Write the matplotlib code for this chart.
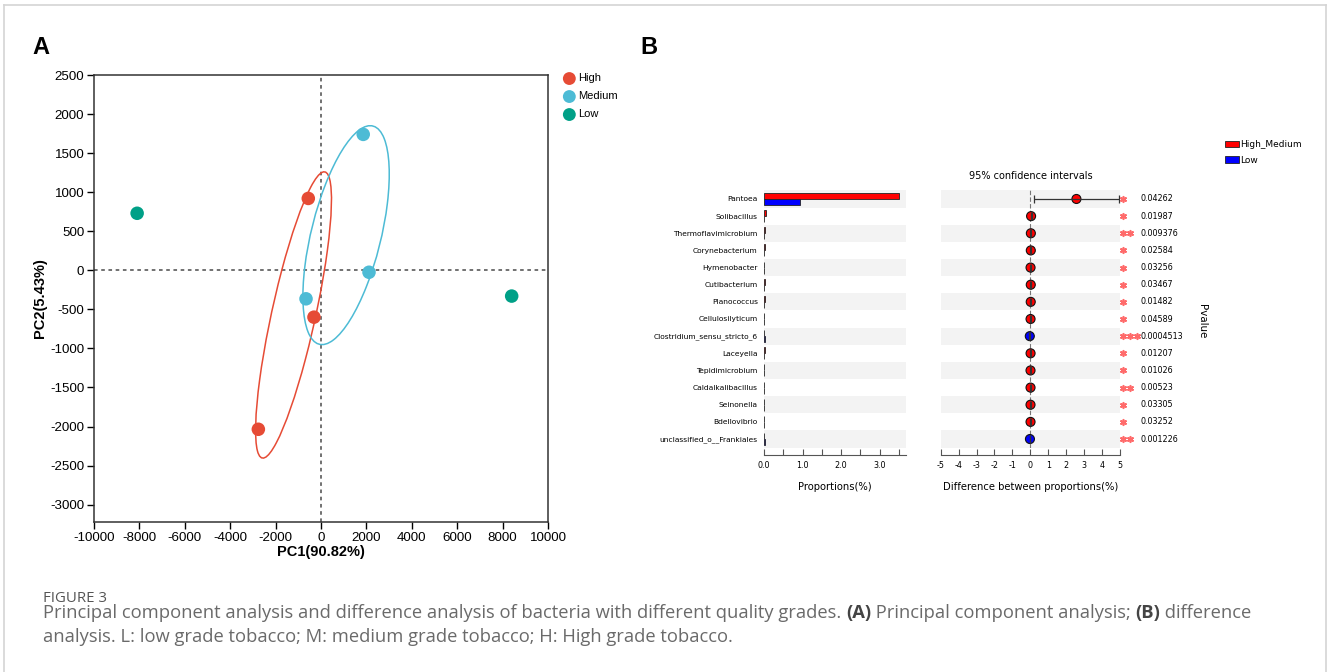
import numpy as np
import matplotlib
matplotlib.use('Agg')
import matplotlib.pyplot as plt
from matplotlib.patches import Ellipse, Patch
from matplotlib.lines import Line2D
import matplotlib.transforms as transforms

# ---------------- Panel A data (PCA) ----------------
groups = ['High', 'Medium', 'Low']
group_colors = ['#E64B35', '#4DBBD5', '#00A087']
pc1_high = [-560, -310, -2760]
pc2_high = [920, -600, -2035]
pc1_medium = [1860, 2115, -660]
pc2_medium = [1740, -25, -365]
pc1_low = [-8100, 8400]
pc2_low = [730, -330]
pc1_label = 'PC1(90.82%)'
pc2_label = 'PC2(5.43%)'

# ---------------- Panel B data (difference analysis) ----------------
genera = ['Pantoea', 'Solibacillus', 'Thermoflavimicrobium', 'Corynebacterium',
          'Hymenobacter', 'Cutibacterium', 'Planococcus', 'Cellulosilyticum',
          'Clostridium_sensu_stricto_6', 'Laceyella', 'Tepidimicrobium',
          'Caldalkalibacillus', 'Seinonella', 'Bdellovibrio',
          'unclassified_o__Frankiales']
prop_high_medium = [3.50, 0.045, 0.030, 0.028, 0.012, 0.025, 0.024, 0.012,
                    0.004, 0.013, 0.010, 0.011, 0.010, 0.011, 0.002]
prop_low = [0.93, 0.004, 0.002, 0.003, 0.001, 0.002, 0.003, 0.001,
            0.035, 0.001, 0.001, 0.001, 0.001, 0.001, 0.025]
diff_ci_low = [0.18, 0.01, 0.008, 0.006, 0.003, 0.005, 0.006, 0.003,
               -0.05, 0.004, 0.002, 0.003, 0.002, 0.003, -0.035]
diff_ci_high = [4.96, 0.07, 0.048, 0.044, 0.019, 0.04, 0.036, 0.019,
                -0.012, 0.02, 0.016, 0.017, 0.016, 0.017, -0.011]
p_values = ['0.04262', '0.01987', '0.009376', '0.02584', '0.03256', '0.03467',
            '0.01482', '0.04589', '0.0004513', '0.01207', '0.01026', '0.00523',
            '0.03305', '0.03252', '0.001226']
legend_b = ['High_Medium', 'Low']
bar_colors = ['#ff0000', '#0000ff']

caption_title = 'FIGURE 3'
caption_parts_1 = [('Principal component analysis and difference analysis of bacteria with different quality grades. ', 'normal'),
                   ('(A)', 'bold'), (' Principal component analysis; ', 'normal'),
                   ('(B)', 'bold'), (' difference', 'normal')]
caption_line_2 = 'analysis. L: low grade tobacco; M: medium grade tobacco; H: High grade tobacco.'

plt.rcParams['font.family'] = ['Liberation Sans', 'DejaVu Sans']
plt.rcParams['axes.unicode_minus'] = False

W, H = 1328, 672
fig = plt.figure(figsize=(W / 100, H / 100), dpi=100)


def fx(px):
    return px / W


def fy(py):
    return 1 - py / H


# figure border
for xs, ys in [((4, 4), (5, 672)), ((4, 1326), (5, 5)), ((1326, 1326), (5, 672))]:
    fig.add_artist(Line2D([fx(xs[0]), fx(xs[1])], [fy(ys[0]), fy(ys[1])],
                          color='#d4d4d4', lw=1.2, transform=fig.transFigure))

# ================= Panel A =================
axA = fig.add_axes([fx(94), fy(522), fx(548) - fx(94), fy(75) - fy(522)])
axA.set_xlim(-10000, 10000)
axA.set_ylim(-3222, 2500)
axA.axvline(0, color='#666666', ls=(0, (2, 2)), lw=1.3, zorder=1)
axA.axhline(0, color='#666666', ls=(0, (2, 2)), lw=1.3, zorder=1)


def conf_ellipse(ax, x, y, n_std, color):
    x = np.asarray(x, float)
    y = np.asarray(y, float)
    cov = np.cov(x, y)
    r = cov[0, 1] / np.sqrt(cov[0, 0] * cov[1, 1])
    ell = Ellipse((0, 0), width=2 * np.sqrt(1 + r), height=2 * np.sqrt(1 - r),
                  facecolor='none', edgecolor=color, lw=1.1, zorder=2)
    t = (transforms.Affine2D().rotate_deg(45)
         .scale(np.sqrt(cov[0, 0]) * n_std, np.sqrt(cov[1, 1]) * n_std)
         .translate(x.mean(), y.mean()))
    ell.set_transform(t + ax.transData)
    ax.add_patch(ell)


conf_ellipse(axA, pc1_high, pc2_high, 1.24, group_colors[0])
conf_ellipse(axA, pc1_medium, pc2_medium, 1.24, group_colors[1])

handles = []
for xs, ys, c, g in [(pc1_high, pc2_high, group_colors[0], groups[0]),
                     (pc1_medium, pc2_medium, group_colors[1], groups[1]),
                     (pc1_low, pc2_low, group_colors[2], groups[2])]:
    h = axA.scatter(xs, ys, s=95, color=c, edgecolors='none', zorder=3, label=g)
    handles.append(h)

axA.set_xticks(np.arange(-10000, 10001, 2000))
axA.set_yticks(np.arange(-3000, 2501, 500))
axA.tick_params(direction='out', length=5, width=1, labelsize=9.6, pad=2)
for sp in axA.spines.values():
    sp.set_linewidth(1.1)
    sp.set_color('#333333')
axA.set_xlabel(pc1_label, fontsize=10.5, fontweight='bold', labelpad=1)
axA.set_ylabel(pc2_label, fontsize=10.5, fontweight='bold', labelpad=2)
fig.legend(handles=handles, loc='upper left', bbox_to_anchor=(fx(556), fy(69)),
           frameon=False, fontsize=8.0, handletextpad=0.0, labelspacing=0.72,
           borderaxespad=0, handlelength=1.6, markerscale=0.95)

fig.text(fx(32), fy(48), 'A', fontsize=17, fontweight='bold', va='center', ha='left')
fig.text(fx(640), fy(48), 'B', fontsize=17, fontweight='bold', va='center', ha='left')

# ================= Panel B =================
n = len(genera)
ypos = np.arange(n)
row_top, row_bot = 190.4, 447.6

axL = fig.add_axes([fx(764), fy(row_bot), fx(906) - fx(764), fy(row_top) - fy(row_bot)])
axR = fig.add_axes([fx(940.7), fy(row_bot), fx(1120) - fx(940.7), fy(row_top) - fy(row_bot)])

for ax in (axL, axR):
    ax.set_ylim(n - 0.5, -0.5)
    for i in ypos:
        if i % 2 == 0:
            ax.axhspan(i - 0.5, i + 0.5, color='#f3f3f3', lw=0, zorder=0)
    for s in ('top', 'right', 'left'):
        ax.spines[s].set_visible(False)
    ax.spines['bottom'].set_position(('outward', 5))
    ax.spines['bottom'].set_color('#555555')
    ax.spines['bottom'].set_linewidth(0.8)
    ax.tick_params(axis='x', which='both', direction='in', length=4, width=0.8,
                   color='#555555', labelsize=5.8, pad=5)

# Proportion bars
bh = 0.35
axL.barh(ypos - bh / 2, prop_high_medium, height=bh, color=bar_colors[0],
         edgecolor='#222222', lw=0.6, zorder=2)
axL.barh(ypos + bh / 2, prop_low, height=bh, color=bar_colors[1],
         edgecolor='#222222', lw=0.6, zorder=2)
axL.set_xlim(0, 3.68)
axL.set_xticks([0, 1, 2, 3])
axL.set_xticklabels(['0.0', '1.0', '2.0', '3.0'])
axL.set_xticks([0.5, 1.5, 2.5, 3.5], minor=True)
axL.set_yticks(ypos)
axL.set_yticklabels(genera, fontsize=5.4, family='DejaVu Sans')
axL.tick_params(axis='y', length=0, pad=4.5)
for lab in axL.get_xticklabels():
    lab.set_family('DejaVu Sans')
axL.set_xlabel('Proportions(%)', fontsize=7.2, family='DejaVu Sans', labelpad=8)

# CI panel
diff = np.array(prop_high_medium) - np.array(prop_low)
lo = np.array(diff_ci_low)
hi = np.array(diff_ci_high)
axR.set_xlim(-5, 5)
axR.axvline(0, color='#777777', ls=(0, (4, 2)), lw=0.8, zorder=1)
pt_colors = [bar_colors[0] if d > 0 else bar_colors[1] for d in diff]
axR.scatter(diff, ypos, s=42, c=pt_colors, edgecolors='#111111', linewidths=0.8, zorder=3)
axR.errorbar(diff, ypos, xerr=[diff - lo, hi - diff], fmt='none', ecolor='#333333',
             elinewidth=0.9, capsize=3, capthick=0.9, zorder=4)
axR.set_xticks(np.arange(-5, 6, 1))
axR.set_yticks([])
for lab in axR.get_xticklabels():
    lab.set_family('DejaVu Sans')
axR.set_xlabel('Difference between proportions(%)', fontsize=7.2, family='DejaVu Sans', labelpad=8)
axR.text(0.5, 1.056, '95% confidence intervals', transform=axR.transAxes,
         ha='center', va='center', fontsize=7.0, family='DejaVu Sans')

# stars and p values
for i, p in enumerate(p_values):
    pv = float(p)
    k = 3 if pv < 0.001 else (2 if pv < 0.01 else 1)
    axR.scatter([5.15 + 0.41 * j for j in range(k)], [i] * k, marker=(6, 2, 0),
                s=16, color='#ff6b6b', linewidths=1.2, clip_on=False, zorder=5)
    axR.text(6.17, i, p, ha='left', va='center', fontsize=5.8, family='DejaVu Sans',
             clip_on=False)
axR.text(9.55, 7.1, 'Pvalue', rotation=270, ha='center', va='center', fontsize=7.4,
         family='DejaVu Sans', clip_on=False)

leg_handles = [Patch(facecolor=bar_colors[0], edgecolor='#222222', lw=0.6),
               Patch(facecolor=bar_colors[1], edgecolor='#222222', lw=0.6)]
fig.legend(leg_handles, legend_b, loc='upper left', bbox_to_anchor=(fx(1225), fy(140)),
           frameon=False, prop={'family': 'DejaVu Sans', 'size': 6.5},
           handlelength=1.5, handleheight=0.75, handletextpad=0.2, labelspacing=0.75,
           borderaxespad=0, borderpad=0)

# ================= Caption =================
cap_font = ['Open Sans', 'DejaVu Sans']
cap_size = 13.2
fig.text(fx(43), fy(598), caption_title, fontsize=10.8, color='#555555',
         family=cap_font, va='center', ha='left')
renderer = fig.canvas.get_renderer()
x_px = 43
for txt, wt in caption_parts_1:
    t = fig.text(fx(x_px), fy(618), txt, fontsize=cap_size,
                 color='#6a6a6a' if wt == 'normal' else '#444444',
                 family=cap_font, fontweight='normal' if wt == 'normal' else 'bold',
                 va='baseline', ha='left')
    bb = t.get_window_extent(renderer=renderer)
    x_px = bb.x1
fig.text(fx(43), fy(642), caption_line_2, fontsize=cap_size, color='#6a6a6a',
         family=cap_font, va='baseline', ha='left')

fig.savefig('out.png', dpi=100)
